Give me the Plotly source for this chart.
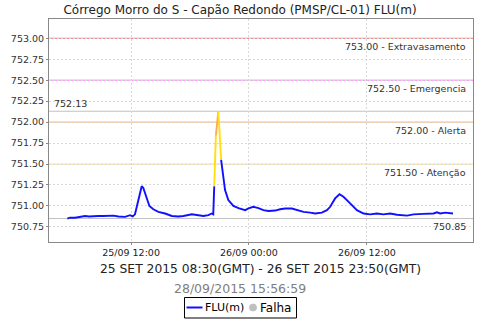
import plotly.graph_objects as go

# ---------------- data ----------------
times = [
    "2015-09-25 05:31", "2015-09-25 05:47", "2015-09-25 06:18", "2015-09-25 06:49",
    "2015-09-25 07:19", "2015-09-25 07:45", "2015-09-25 08:10", "2015-09-25 08:40",
    "2015-09-25 09:11", "2015-09-25 09:40", "2015-09-25 10:12", "2015-09-25 10:43",
    "2015-09-25 11:23", "2015-09-25 11:54", "2015-09-25 12:10", "2015-09-25 12:24",
    "2015-09-25 12:38", "2015-09-25 13:05", "2015-09-25 13:15", "2015-09-25 13:32",
    "2015-09-25 13:52", "2015-09-25 14:16", "2015-09-25 14:47", "2015-09-25 15:28",
    "2015-09-25 16:09", "2015-09-25 16:49", "2015-09-25 17:20", "2015-09-25 18:11",
    "2015-09-25 18:41", "2015-09-25 19:22", "2015-09-25 19:52", "2015-09-25 20:13",
    "2015-09-25 20:22", "2015-09-25 20:28", "2015-09-25 20:38", "2015-09-25 20:53",
    "2015-09-25 21:10", "2015-09-25 21:34", "2015-09-25 21:54", "2015-09-25 22:25",
    "2015-09-25 22:56", "2015-09-25 23:37", "2015-09-25 23:57", "2015-09-26 00:27",
    "2015-09-26 00:58", "2015-09-26 01:28", "2015-09-26 01:59", "2015-09-26 02:40",
    "2015-09-26 03:10", "2015-09-26 03:41", "2015-09-26 04:22", "2015-09-26 04:52",
    "2015-09-26 05:33", "2015-09-26 06:14", "2015-09-26 06:44", "2015-09-26 07:25",
    "2015-09-26 07:56", "2015-09-26 08:16", "2015-09-26 08:26", "2015-09-26 08:46",
    "2015-09-26 09:13", "2015-09-26 09:37", "2015-09-26 10:18", "2015-09-26 10:59",
    "2015-09-26 11:40", "2015-09-26 12:20", "2015-09-26 13:01", "2015-09-26 13:41",
    "2015-09-26 14:22", "2015-09-26 15:04", "2015-09-26 16:05", "2015-09-26 16:45",
    "2015-09-26 17:46", "2015-09-26 18:47", "2015-09-26 19:08", "2015-09-26 19:28",
    "2015-09-26 19:59", "2015-09-26 20:46",
]
levels = [
    750.85, 750.86, 750.86, 750.87,
    750.88, 750.875, 750.88, 750.88,
    750.88, 750.885, 750.885, 750.875,
    750.87, 750.89, 750.875, 750.90,
    751.01, 751.235, 751.215, 751.11,
    751.00, 750.96, 750.93, 750.91,
    750.88, 750.875, 750.88, 750.90,
    750.89, 750.88, 750.89, 750.91,
    750.90, 751.235, 751.84, 752.13,
    751.55, 751.19, 751.07, 751.00,
    750.975, 750.95, 750.97, 750.99,
    750.975, 750.95, 750.94, 750.945,
    750.96, 750.97, 750.97, 750.95,
    750.93, 750.92, 750.91, 750.92,
    750.95, 750.99, 751.03, 751.09,
    751.14, 751.11, 751.03, 750.95,
    750.91, 750.90, 750.91, 750.90,
    750.91, 750.895, 750.885, 750.90,
    750.905, 750.91, 750.925, 750.91,
    750.92, 750.91,
]

threshold_values = [753.00, 752.50, 752.00, 751.50]
threshold_names = ["Extravasamento", "Emergencia", "Alerta", "Atenção"]
threshold_colors = ["#f07070", "#ff70ff", "#ffa860", "#ffe070"]

y_ticks = [750.75, 751.00, 751.25, 751.50, 751.75, 752.00, 752.25, 752.50, 752.75, 753.00]
x_ticks = ["2015-09-25 12:00", "2015-09-26 00:00", "2015-09-26 12:00"]
x_ticktext = ["25/09 12:00", "26/09 00:00", "26/09 12:00"]

title_text = "Córrego Morro do S - Capão Redondo (PMSP/CL-01) FLU(m)"
period_text = "25 SET 2015 08:30(GMT) - 26 SET 2015 23:50(GMT)"
stamp_text = "28/09/2015 15:56:59"
legend_names = ["FLU(m)", "Falha"]

FONT = "DejaVu Sans"
BLUE = "#1010ff"

# layout geometry (pixels)
L, R, T, B = 49, 7, 19, 78
W = 480 - L - R
H = 320 - T - B


def px(x):
    return (x - L) / W


def py(y):
    return (320 - B - y) / H


def seg_color(v):
    if v >= threshold_values[2]:
        return threshold_colors[2]
    if v >= threshold_values[3]:
        return "#ffe010"
    return BLUE


fig = go.Figure()

# group segments by colour of their end point
groups = []
for i in range(1, len(times)):
    c = seg_color(levels[i])
    if groups and groups[-1][0] == c and groups[-1][2] == i - 1:
        groups[-1][1].append(i)
        groups[-1][2] = i
    else:
        groups.append([c, [i - 1, i], i])

for c, idx, _ in groups:
    fig.add_trace(go.Scatter(
        x=[times[k] for k in idx], y=[levels[k] for k in idx],
        mode="lines", line=dict(color=c, width=1.9),
        showlegend=False, hoverinfo="skip"))

# threshold lines
for v, nm, col in zip(threshold_values, threshold_names, threshold_colors):
    fig.add_shape(type="line", xref="paper", x0=0, x1=1, yref="y", y0=v, y1=v,
                  line=dict(color=col, width=1), layer="below")
    fig.add_annotation(xref="paper", x=px(468), yref="y", y=v, yshift=-8,
                       text=f"{v:.2f} - {nm}", showarrow=False, xanchor="right",
                       yanchor="middle", font=dict(family=FONT, size=9.5, color="#333333"))

vmax = max(levels)
vmin = min(levels)
for v in (vmax, vmin):
    fig.add_shape(type="line", xref="paper", x0=0, x1=1, yref="y", y0=v, y1=v,
                  line=dict(color="#c0c0c0", width=1), layer="below")
fig.add_annotation(xref="paper", x=px(52), yref="y", y=vmax, yshift=8,
                   text=f"{vmax:.2f}", showarrow=False, xanchor="left", yanchor="middle",
                   font=dict(family=FONT, size=9.5, color="#333333"))
fig.add_annotation(xref="paper", x=px(468), yref="y", y=vmin, yshift=-8,
                   text=f"{vmin:.2f}", showarrow=False, xanchor="right", yanchor="middle",
                   font=dict(family=FONT, size=9.5, color="#333333"))

# texts below plot
fig.add_annotation(xref="paper", x=px(260.5), yref="paper", y=py(269),
                   text=period_text, showarrow=False, xanchor="center", yanchor="middle",
                   font=dict(family=FONT, size=12.3, color="#222222"))
fig.add_annotation(xref="paper", x=px(240), yref="paper", y=py(288.3),
                   text=stamp_text, showarrow=False, xanchor="center", yanchor="middle",
                   font=dict(family=FONT, size=12.5, color="#808080"))

# legend (manual)
fig.add_shape(type="rect", xref="paper", yref="paper", x0=px(184.5), x1=px(296.5),
              y0=py(297.5), y1=py(318), line=dict(color="black", width=1),
              fillcolor="white", layer="above")
fig.add_shape(type="line", xref="paper", yref="paper", x0=px(186.5), x1=px(202.5),
              y0=py(307.5), y1=py(307.5), line=dict(color=BLUE, width=2), layer="above")
fig.add_annotation(xref="paper", x=px(203.5), yref="paper", y=py(307.5), text=legend_names[0],
                   showarrow=False, xanchor="left", yanchor="middle", borderpad=0,
                   font=dict(family=FONT, size=11, color="black"))
fig.add_shape(type="circle", xref="paper", yref="paper", x0=px(249.5), x1=px(256.5),
              y0=py(304), y1=py(311), line=dict(color="#c0c0c0", width=1),
              fillcolor="#c0c0c0", layer="above")
fig.add_annotation(xref="paper", x=px(259), yref="paper", y=py(307.5), text=legend_names[1],
                   showarrow=False, xanchor="left", yanchor="middle", borderpad=0,
                   font=dict(family=FONT, size=12, color="black"))

fig.update_layout(
    width=480, height=320,
    margin=dict(l=L, r=R, t=T, b=B, pad=0),
    paper_bgcolor="white", plot_bgcolor="white",
    showlegend=False,
    title=dict(text=title_text, x=0.5, xref="container", xanchor="center",
               y=1 - 9.5 / 320, yref="container", yanchor="middle",
               font=dict(family=FONT, size=12, color="#222222")),
    font=dict(family=FONT, size=9.5, color="#333333"),
)
fig.update_xaxes(
    type="date", range=["2015-09-25 03:39", "2015-09-26 22:48"],
    tickvals=x_ticks, ticktext=x_ticktext,
    showgrid=True, gridcolor="#d8d8d8", griddash="2px,2px", gridwidth=1,
    showline=True, linecolor="#888888", linewidth=1, mirror=True,
    ticks="outside", ticklen=2, tickcolor="#888888",
    tickfont=dict(family=FONT, size=9.5, color="#222222"), zeroline=False,
)
fig.update_yaxes(
    range=[750.57, 753.23], tickvals=y_ticks, tickformat=".2f",
    showgrid=True, gridcolor="#d8d8d8", griddash="2px,2px", gridwidth=1,
    showline=True, linecolor="#888888", linewidth=1, mirror=True,
    ticks="outside", ticklen=2, tickcolor="#888888",
    tickfont=dict(family=FONT, size=9.5, color="#333333"), zeroline=False,
)

fig.write_html("out.html")
